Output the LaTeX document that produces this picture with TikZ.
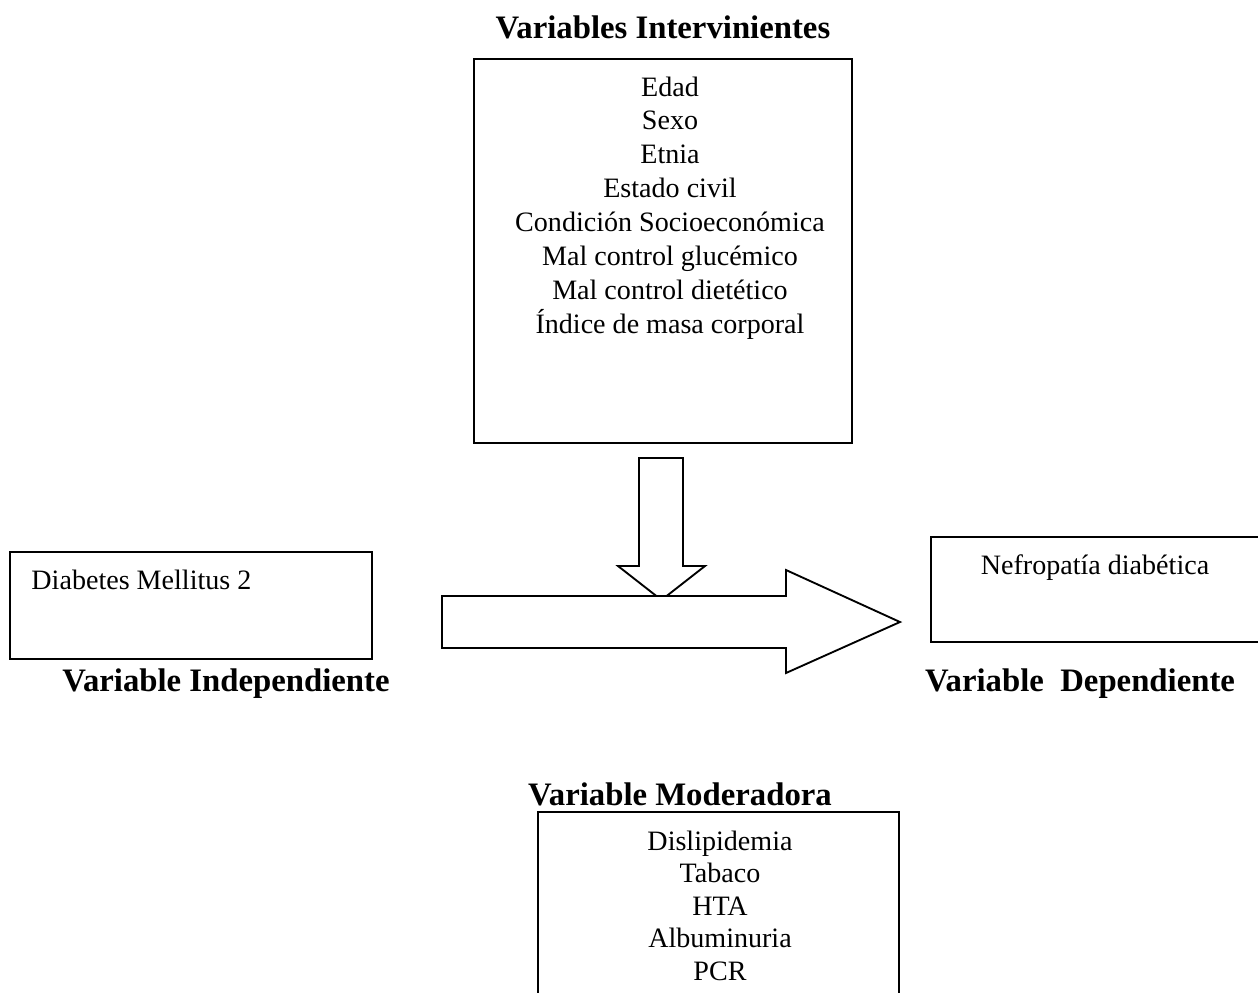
\documentclass[tikz,border=0pt]{standalone}
\usepackage{fontspec}
\setmainfont{Liberation Serif}
\usetikzlibrary{positioning}
\newdimen\px
\px=0.4274pt

\begin{document}
\begin{tikzpicture}[
  x=\px, y=-\px,
  box/.style={rectangle, draw, line width=0.8pt, inner sep=0pt},
  item/.style={font=\fontsize{12}{14.5}\selectfont, align=center, inner sep=0pt},
  title/.style={font=\fontsize{14}{16}\selectfont\bfseries, inner sep=0pt},
  blockarrow/.style={draw, line width=0.8pt, fill=white, line join=miter}
]
\useasboundingbox (0,0) rectangle (1258,992);

% boxes
\node[box, minimum width=378\px, minimum height=384\px] (interv) at (663,251) {};
\node[box, minimum width=362\px, minimum height=107\px] (indep) at (191,605.5) {};
\node[box, minimum width=362\px, minimum height=105\px] (dep) at (1112,589.5) {};
\node[box, minimum width=361\px, minimum height=220\px] (moder) at (718.5,922) {};

% titles
\node[title, anchor=base] (intervtitle) at (663,38) {Variables Intervinientes};
\node[title, anchor=base] (indeptitle) at (226,691) {Variable Independiente};
\node[title, anchor=base] (deptitle) at (1080,691) {Variable\ \ Dependiente};
\node[title, anchor=base] (modertitle) at (680,805) {Variable Moderadora};

% contents
\node[item, below=18\px of interv.north, xshift=7\px] (intervlist) {Edad\\Sexo\\Etnia\\Estado civil\\Condición Socioeconómica\\Mal control glucémico\\Mal control dietético\\Índice de masa corporal};
\node[item, anchor=base west] (dm) at (31,589) {Diabetes Mellitus 2};
\node[item, anchor=base] (nd) at (1095,574) {Nefropatía diabética};
\node[item, font=\fontsize{12}{13.9}\selectfont, below=19\px of moder.north, xshift=1.5\px] (moderlist) {Dislipidemia\\Tabaco\\HTA\\Albuminuria\\PCR};

% block arrows
\draw[blockarrow] (639,458) -- (683,458) -- (683,566) -- (705,566) -- (661.5,600)
  -- (618,566) -- (639,566) -- cycle;
\draw[blockarrow] (442,596) -- (786,596) -- (786,570) -- (900,622) -- (786,673)
  -- (786,648) -- (442,648) -- cycle;
\end{tikzpicture}
\end{document}
